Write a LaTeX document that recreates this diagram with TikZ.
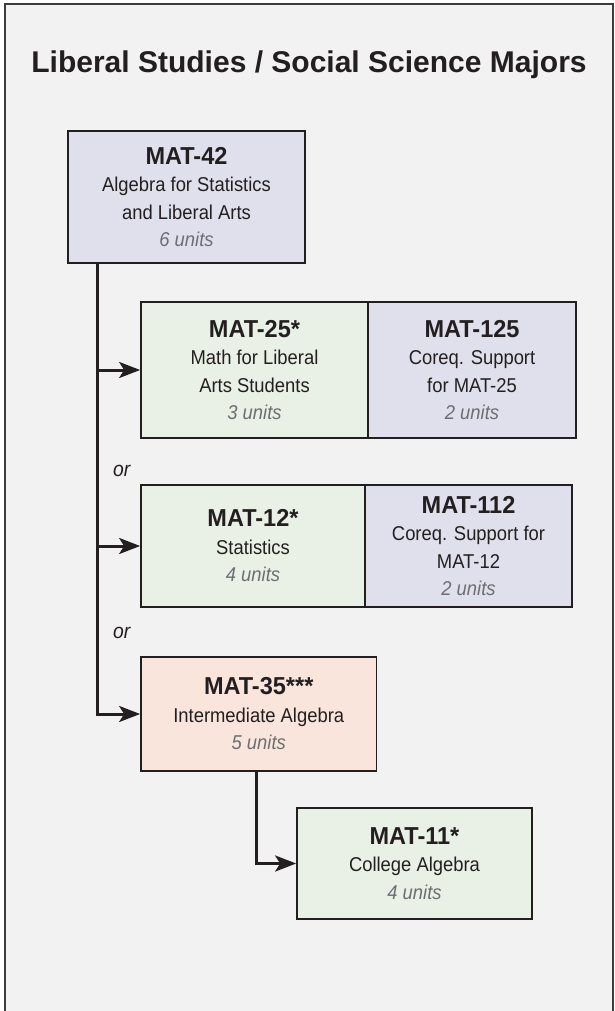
\documentclass[tikz,border=0pt]{standalone}
\usepackage{fontspec}
\setmainfont{Liberation Sans}
\newfontfamily\condfont[FakeStretch=0.92]{Liberation Sans}
\newfontfamily\headfont[FakeStretch=0.96]{Liberation Sans}
\usetikzlibrary{arrows.meta,calc}
\definecolor{ink}{HTML}{231F20}
\definecolor{unitgray}{HTML}{6D6E71}
\definecolor{bgpanel}{HTML}{F1F2F1}
\definecolor{lav}{HTML}{E0E0EC}
\definecolor{mint}{HTML}{E9F1E6}
\definecolor{peach}{HTML}{F9E5DC}
\definecolor{framec}{HTML}{3C3C3C}
\newcommand{\crshead}[1]{{\headfont\fontsize{24.5}{26}\selectfont\bfseries #1}}
\newcommand{\crsunits}[1]{{\itshape\color{unitgray}#1}}
\tikzset{
  course/.style={draw=ink, line width=1.7pt, inner sep=0pt, align=center, text=ink,
    font=\condfont\fontsize{20}{27.5}\selectfont},
  conn/.style={draw=ink, line width=3pt},
  tipped/.style={-{Stealth[length=21pt,width=16pt,inset=5pt]}},
  ortext/.style={text=ink, inner sep=0pt, font=\condfont\fontsize{21}{22}\selectfont\itshape},
}
\begin{document}
\begin{tikzpicture}[x=1pt,y=-1pt]
\useasboundingbox (0,0) rectangle (615,1011);
% panel
\fill[bgpanel] (5,4) rectangle (613,1011);
\draw[framec, line width=2pt] (5,1011) -- (5,4) -- (613,4) -- (613,1011);
% title
\node[anchor=base, text=ink, inner sep=0pt, font=\fontsize{30}{34}\selectfont\bfseries] (title) at (309,73)
  {Liberal Studies / Social Science Majors};
% courses
\node[course, fill=lav, minimum width=237, minimum height=132] (m42) at (186.5,197)
  {\crshead{MAT-42}\\Algebra for Statistics\\and Liberal Arts\\\crsunits{6 units}};
\node[course, fill=mint, minimum width=227, minimum height=136] (m25) at (254.5,370)
  {\crshead{MAT-25*}\\Math for Liberal\\Arts Students\\\crsunits{3 units}};
\node[course, fill=lav, minimum width=208, minimum height=136] (m125) at (472,370)
  {\crshead{MAT-125}\\Coreq. Support\\for MAT-25\\\crsunits{2 units}};
\node[course, fill=mint, minimum width=224, minimum height=122] (m12) at (253,546)
  {\crshead{MAT-12*}\\Statistics\\\crsunits{4 units}};
\node[course, fill=lav, minimum width=207, minimum height=122] (m112) at (468.5,546)
  {\crshead{MAT-112}\\Coreq. Support for\\MAT-12\\\crsunits{2 units}};
\node[course, fill=peach, minimum width=235.5, minimum height=114] (m35) at (258.75,714)
  {\crshead{MAT-35***}\\Intermediate Algebra\\\crsunits{5 units}};
\node[course, fill=mint, minimum width=235, minimum height=111] (m11) at (414.5,863.5)
  {\crshead{MAT-11*}\\College Algebra\\\crsunits{4 units}};
% or labels
\node[ortext, anchor=base west] (or1) at (113,476) {or};
\node[ortext, anchor=base west] (or2) at (113,638) {or};
% connectors
\coordinate (trunk) at ($(m42.south west)+(30,0)$);
\draw[conn, tipped] (trunk) |- (m35.west);
\draw[conn, tipped] (trunk |- m25.west) -- (m25.west);
\draw[conn, tipped] (trunk |- m12.west) -- (m12.west);
\draw[conn, tipped] ($(m35.south)+(-2,0)$) |- (m11.west);
\end{tikzpicture}
\end{document}
